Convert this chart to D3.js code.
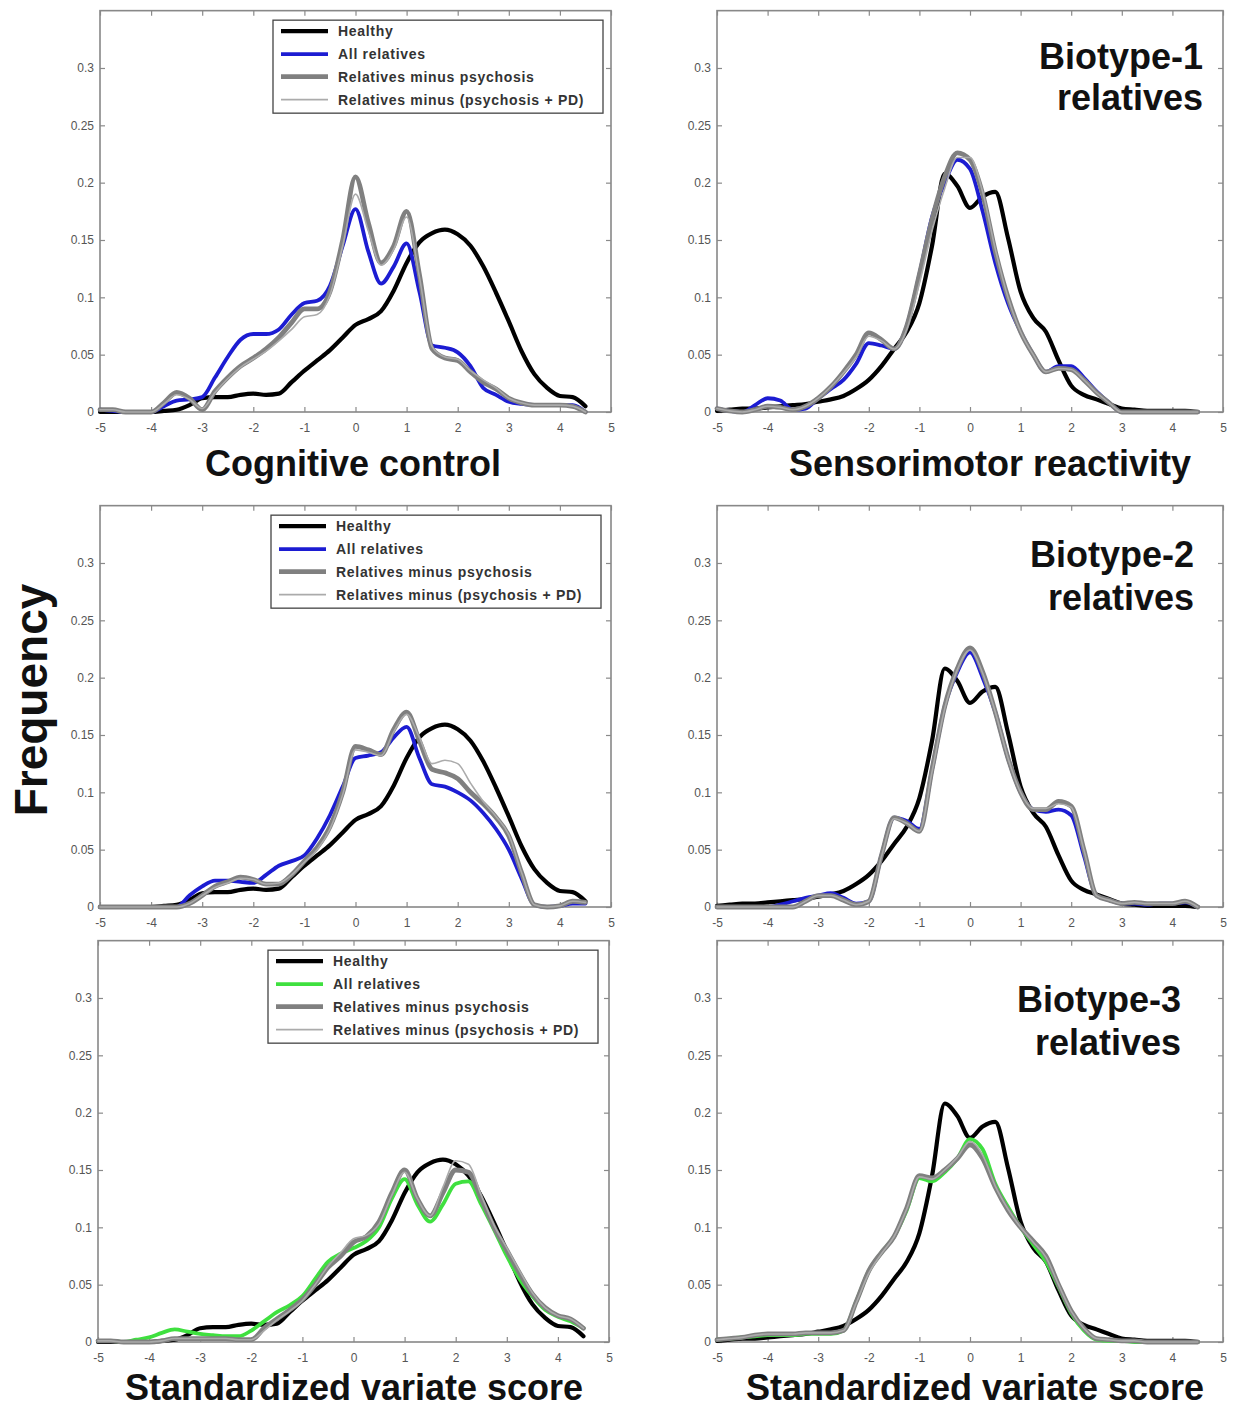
<!DOCTYPE html>
<html>
<head>
<meta charset="utf-8">
<script src="https://cdn.jsdelivr.net/npm/d3@7/dist/d3.min.js"></script>
<style>
body{margin:0;background:#fff;}
svg{display:block;font-family:"Liberation Sans",Arial,sans-serif;}
</style>
</head>
<body>
<svg id="chart"></svg>
<script>
// standardized variate score grid (x values shared by every curve)
var scoreGrid=[-5,-4.75,-4.5,-4.25,-4,-3.75,-3.5,-3.25,-3,-2.75,-2.5,-2.25,-2,-1.75,-1.5,-1.25,-1,-0.75,-0.5,-0.25,
    0,0.25,0.5,0.75,1,1.25,1.5,1.75,2,2.25,2.5,2.75,3,3.25,3.5,3.75,4,4.25,4.5];

var xTicks=[-5,-4,-3,-2,-1,0,1,2,3,4,5];
var xTickLabels=['-5','-4','-3','-2','-1','0','1','2','3','4','5'];
var yTicks=[0,0.05,0.1,0.15,0.2,0.25,0.3];
var yTickLabels=['0','0.05','0.1','0.15','0.2','0.25','0.3'];

var seriesNames=['Healthy','All relatives','Relatives minus psychosis','Relatives minus (psychosis + PD)'];

// healthy controls (same in every row of a column)
var cognitiveHealthy=[0,0,0,0,0,0.001,0.002,0.006,0.012,0.013,0.013,0.015,0.016,0.015,0.016,0.026,0.036,0.045,0.054,0.065,
    0.076,0.081,0.088,0.106,0.13,0.148,0.156,0.159,0.155,0.145,0.127,0.104,0.079,0.053,0.033,0.021,0.014,0.013,0.005];
var sensorimotorHealthy=[0.001,0.002,0.003,0.003,0.004,0.005,0.006,0.007,0.009,0.011,0.014,0.02,0.028,0.04,0.055,0.07,0.095,0.145,0.208,0.197,
    0.178,0.188,0.192,0.152,0.105,0.082,0.07,0.045,0.023,0.015,0.011,0.007,0.003,0.002,0.001,0.001,0.001,0.001,0];

// Biotype-1
var cog1Relatives=[0.002,0.001,0,0,0,0.005,0.01,0.011,0.013,0.03,0.048,0.063,0.068,0.068,0.072,0.085,0.095,0.097,0.11,0.145,
    0.177,0.14,0.112,0.127,0.147,0.105,0.058,0.056,0.052,0.04,0.021,0.015,0.009,0.007,0.006,0.006,0.006,0.006,0];
var cog1MinusPsychosis=[0.002,0.002,0,0,0,0.008,0.017,0.012,0.002,0.018,0.03,0.04,0.047,0.055,0.065,0.078,0.09,0.09,0.105,0.15,
    0.205,0.165,0.13,0.145,0.175,0.12,0.055,0.047,0.045,0.035,0.026,0.02,0.012,0.008,0.006,0.006,0.006,0.005,0];
var cog1MinusPD=[0.002,0.002,0,0,0,0.007,0.015,0.011,0.003,0.017,0.029,0.039,0.046,0.053,0.062,0.072,0.083,0.085,0.102,0.145,
    0.19,0.158,0.128,0.142,0.17,0.118,0.057,0.048,0.046,0.036,0.028,0.021,0.012,0.008,0.006,0.006,0.006,0.005,0];
var sens1Relatives=[0.003,0.001,0,0.006,0.012,0.01,0.002,0.003,0.012,0.02,0.028,0.042,0.06,0.058,0.055,0.075,0.12,0.17,0.2,0.22,
    0.212,0.175,0.13,0.095,0.07,0.05,0.035,0.04,0.04,0.03,0.018,0.008,0,0,0,0,0,0,0];
var sens1MinusPsychosis=[0.003,0.001,0,0.002,0.005,0.004,0.002,0.005,0.012,0.022,0.035,0.05,0.069,0.063,0.055,0.075,0.12,0.168,0.205,0.226,
    0.22,0.19,0.14,0.1,0.07,0.05,0.035,0.038,0.037,0.028,0.017,0.008,0,0,0,0,0,0,0];
var sens1MinusPD=[0.003,0.001,0,0.002,0.005,0.004,0.002,0.005,0.012,0.022,0.034,0.048,0.066,0.062,0.055,0.072,0.112,0.158,0.195,0.222,
    0.222,0.192,0.142,0.1,0.07,0.05,0.035,0.038,0.037,0.028,0.017,0.008,0,0,0,0,0,0,0];

// Biotype-2
var cog2Relatives=[0,0,0,0,0,0,0,0.01,0.018,0.023,0.023,0.022,0.021,0.028,0.036,0.04,0.045,0.06,0.08,0.105,
    0.13,0.132,0.135,0.148,0.157,0.13,0.107,0.105,0.1,0.093,0.082,0.068,0.05,0.025,0.002,0,0.001,0.003,0.003];
var cog2MinusPsychosis=[0,0,0,0,0,0,0,0.003,0.01,0.018,0.022,0.026,0.024,0.02,0.02,0.028,0.04,0.052,0.07,0.1,
    0.14,0.137,0.133,0.155,0.17,0.145,0.12,0.117,0.112,0.1,0.09,0.078,0.062,0.03,0.002,0,0.001,0.005,0.004];
var cog2MinusPD=[0,0,0,0,0,0,0,0.003,0.01,0.017,0.021,0.025,0.024,0.02,0.021,0.028,0.039,0.05,0.068,0.098,
    0.137,0.135,0.132,0.153,0.168,0.148,0.125,0.128,0.125,0.108,0.092,0.079,0.063,0.03,0.002,0,0.001,0.005,0.004];
var sens2Relatives=[0,0,0,0,0,0.002,0.005,0.008,0.01,0.012,0.008,0.003,0.005,0.045,0.078,0.075,0.068,0.12,0.175,0.205,
    0.222,0.2,0.17,0.13,0.1,0.085,0.083,0.085,0.08,0.045,0.01,0.006,0.003,0.003,0.002,0.003,0.003,0.004,0];
var sens2MinusPsychosis=[0,0,0,0,0,0,0,0.005,0.01,0.01,0.006,0.002,0.005,0.045,0.078,0.073,0.066,0.12,0.175,0.208,
    0.226,0.205,0.17,0.13,0.1,0.085,0.085,0.092,0.088,0.05,0.01,0.006,0.003,0.004,0.003,0.003,0.003,0.005,0];
var sens2MinusPD=[0,0,0,0,0,0,0,0.005,0.01,0.01,0.006,0.002,0.005,0.044,0.077,0.073,0.066,0.118,0.173,0.207,
    0.224,0.204,0.17,0.13,0.1,0.086,0.086,0.09,0.087,0.05,0.01,0.006,0.003,0.004,0.003,0.003,0.003,0.005,0];

// Biotype-3
var cog3Relatives=[0.001,0.001,0,0.002,0.004,0.008,0.011,0.009,0.007,0.006,0.005,0.005,0.01,0.018,0.026,0.032,0.04,0.055,0.07,0.077,
    0.082,0.088,0.1,0.125,0.142,0.12,0.105,0.12,0.138,0.14,0.12,0.098,0.075,0.055,0.04,0.028,0.022,0.018,0.012];
var cog3MinusPsychosis=[0.001,0.001,0,0,0,0.001,0.003,0.003,0.003,0.003,0.003,0.002,0.002,0.012,0.02,0.028,0.037,0.05,0.065,0.075,
    0.087,0.092,0.105,0.13,0.15,0.125,0.11,0.13,0.15,0.148,0.125,0.1,0.08,0.06,0.042,0.03,0.023,0.02,0.012];
var cog3MinusPD=[0.001,0.001,0,0,0,0.001,0.003,0.003,0.003,0.003,0.003,0.002,0.002,0.01,0.019,0.027,0.036,0.05,0.066,0.078,
    0.09,0.093,0.103,0.128,0.148,0.125,0.11,0.135,0.158,0.155,0.128,0.102,0.082,0.062,0.043,0.03,0.023,0.02,0.012];
var sens3Relatives=[0.002,0.003,0.004,0.005,0.006,0.006,0.006,0.007,0.007,0.007,0.01,0.035,0.062,0.078,0.092,0.115,0.143,0.14,0.148,0.16,
    0.177,0.168,0.138,0.118,0.1,0.085,0.07,0.048,0.025,0.01,0.002,0.001,0.001,0,0,0,0,0,0];
var sens3MinusPsychosis=[0.002,0.003,0.004,0.006,0.007,0.007,0.007,0.008,0.008,0.008,0.01,0.035,0.062,0.078,0.092,0.117,0.145,0.143,0.15,0.16,
    0.172,0.16,0.135,0.115,0.1,0.088,0.075,0.05,0.027,0.012,0.003,0.002,0.001,0.001,0,0,0,0,0];
var sens3MinusPD=[0.002,0.003,0.004,0.006,0.007,0.007,0.007,0.008,0.008,0.008,0.01,0.034,0.06,0.077,0.092,0.116,0.144,0.142,0.15,0.161,
    0.175,0.163,0.136,0.116,0.1,0.087,0.074,0.05,0.027,0.012,0.003,0.002,0.001,0.001,0,0,0,0,0];

var width=1233, height=1410;
var svg=d3.select('#chart').attr('width',width).attr('height',height);
svg.append('rect').attr('width',width).attr('height',height).attr('fill','#fff');

// column x-ranges and row baselines (px)
var cols=[[100,611],[717,1223]];
var rowZero=[412,907,1342];
var pxPerUnit=1146.7;

var blue='#1c1cd2', green='#3fe03f';
var lineColors=['#000000',null,'#808080','#ababab'];
var lineWidths=[4.2,3.8,4.8,1.6];

var panels=[
    {row:0,col:0,sets:[cognitiveHealthy,cog1Relatives,cog1MinusPsychosis,cog1MinusPD],rel:blue,legend:273},
    {row:0,col:1,sets:[sensorimotorHealthy,sens1Relatives,sens1MinusPsychosis,sens1MinusPD],rel:blue,title:['Biotype-1','relatives'],tx:1203,ty:[69,110]},
    {row:1,col:0,sets:[cognitiveHealthy,cog2Relatives,cog2MinusPsychosis,cog2MinusPD],rel:blue,legend:271},
    {row:1,col:1,sets:[sensorimotorHealthy,sens2Relatives,sens2MinusPsychosis,sens2MinusPD],rel:blue,title:['Biotype-2','relatives'],tx:1194,ty:[567,610]},
    {row:2,col:0,sets:[cognitiveHealthy,cog3Relatives,cog3MinusPsychosis,cog3MinusPD],rel:green,legend:268,shift:-2},
    {row:2,col:1,sets:[sensorimotorHealthy,sens3Relatives,sens3MinusPsychosis,sens3MinusPD],rel:green,title:['Biotype-3','relatives'],tx:1181,ty:[1012,1055]}
];

panels.forEach(function(p){
    var shift=p.shift||0;
    var x0=cols[p.col][0]+shift, x1=cols[p.col][1]+shift;
    var y0=rowZero[p.row], yTop=y0-0.35*pxPerUnit;

    var xScale=d3.scaleLinear().domain([-5,5]).range([x0,x1]);
    var yScale=d3.scaleLinear().domain([0,0.35]).range([y0,yTop]);

    var g=svg.append('g');

    // axes, MATLAB style: ticks inside on all four sides
    var bottom=g.append('g').attr('transform','translate(0,'+y0+')')
        .call(d3.axisBottom(xScale).tickValues(xTicks).tickSize(-5).tickPadding(11)
            .tickFormat(function(d,i){return xTickLabels[i];}));
    var top=g.append('g').attr('transform','translate(0,'+yTop+')')
        .call(d3.axisTop(xScale).tickValues(xTicks).tickSize(-5).tickFormat(''));
    var left=g.append('g').attr('transform','translate('+x0+',0)')
        .call(d3.axisLeft(yScale).tickValues(yTicks).tickSize(-5).tickPadding(6)
            .tickFormat(function(d,i){return yTickLabels[i];}));
    var right=g.append('g').attr('transform','translate('+x1+',0)')
        .call(d3.axisRight(yScale).tickValues(yTicks).tickSize(-5).tickFormat(''));
    [bottom,top,left,right].forEach(function(a){
        a.select('.domain').remove();
        a.selectAll('line').attr('stroke','#8a8a8a').attr('stroke-width',1.2);
        a.selectAll('text').attr('fill','#555').attr('font-size','12px')
            .attr('font-family','"Liberation Sans",Arial,sans-serif');
    });

    g.append('rect').attr('x',x0).attr('y',yTop).attr('width',x1-x0).attr('height',y0-yTop)
        .attr('fill','none').attr('stroke','#888').attr('stroke-width',1.6);

    var line=d3.line()
        .x(function(d){return xScale(d[0]);})
        .y(function(d){return yScale(d[1]);})
        .curve(d3.curveMonotoneX);

    p.sets.forEach(function(vals,k){
        var pts=scoreGrid.map(function(s,i){return [s,vals[i]];});
        g.append('path')
            .attr('d',line(pts))
            .attr('fill','none')
            .attr('stroke',k===1?p.rel:lineColors[k])
            .attr('stroke-width',lineWidths[k])
            .attr('stroke-linejoin','round')
            .attr('stroke-linecap','round');
    });

    if(p.legend){
        var bx=p.legend, by=yTop+9.5;
        var lg=g.append('g');
        lg.append('rect').attr('x',bx).attr('y',by).attr('width',330).attr('height',93)
            .attr('fill','#fff').attr('stroke','#444').attr('stroke-width',1.3);
        var rowsY=[11,34,56.5,79.5];
        seriesNames.forEach(function(name,k){
            lg.append('line').attr('x1',bx+8).attr('x2',bx+55)
                .attr('y1',by+rowsY[k]).attr('y2',by+rowsY[k])
                .attr('stroke',k===1?p.rel:lineColors[k]).attr('stroke-width',lineWidths[k]);
            lg.append('text').attr('x',bx+65).attr('y',by+rowsY[k]+5)
                .attr('font-size','14px').attr('font-weight','bold').attr('letter-spacing','0.7px')
                .attr('fill','#333').text(name);
        });
    }

    if(p.title){
        p.title.forEach(function(t,i){
            g.append('text').attr('x',p.tx).attr('y',p.ty[i])
                .attr('text-anchor','end').attr('font-size','36px').attr('font-weight','bold')
                .attr('fill','#111').text(t);
        });
    }
});

// axis titles
var axisTitles=[
    {text:'Cognitive control',x:353,y:476},
    {text:'Sensorimotor reactivity',x:990,y:476},
    {text:'Standardized variate score',x:354,y:1400},
    {text:'Standardized variate score',x:975,y:1400}
];
axisTitles.forEach(function(t){
    svg.append('text').attr('x',t.x).attr('y',t.y).attr('text-anchor','middle')
        .attr('font-size','36px').attr('font-weight','bold').attr('fill','#111').text(t.text);
});

svg.append('text')
    .attr('transform','translate(47,700) rotate(-90)')
    .attr('text-anchor','middle').attr('font-size','46px').attr('font-weight','bold')
    .attr('fill','#111').text('Frequency');
</script>
</body>
</html>
